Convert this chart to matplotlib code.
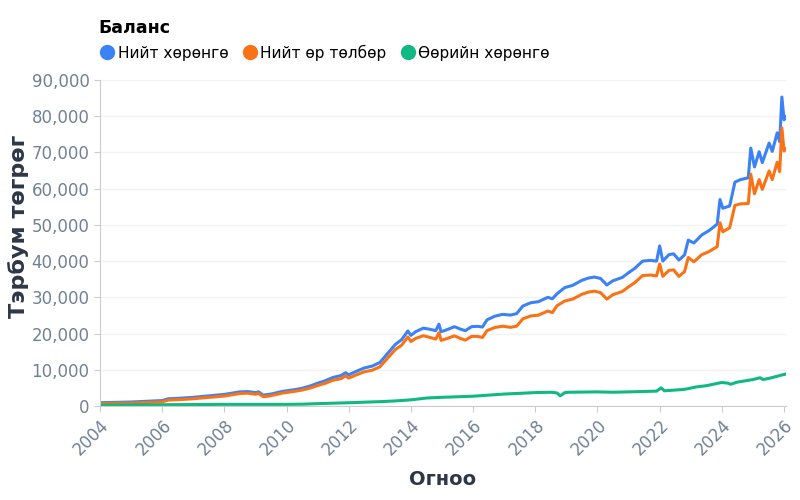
import matplotlib
matplotlib.use("Agg")
import matplotlib.pyplot as plt
from matplotlib.lines import Line2D
from matplotlib.ticker import FuncFormatter

# dates in decimal years
dates = [2004.0, 2004.5, 2005.0, 2005.5, 2006.0, 2006.2, 2006.5, 2007.0, 2007.5, 2008.0,
         2008.5, 2008.75, 2009.0, 2009.1, 2009.25, 2009.5, 2009.85, 2010.25, 2010.5, 2010.75,
         2011.0, 2011.25, 2011.5, 2011.75, 2011.9, 2012.0, 2012.25, 2012.5, 2012.75, 2013.0,
         2013.2, 2013.35, 2013.5, 2013.7, 2013.9, 2014.0, 2014.15, 2014.4, 2014.6, 2014.8,
         2014.9, 2014.97, 2015.2, 2015.4, 2015.6, 2015.75, 2015.95, 2016.15, 2016.3, 2016.45,
         2016.7, 2016.95, 2017.2, 2017.4, 2017.6, 2017.85, 2018.1, 2018.4, 2018.55, 2018.7,
         2018.95, 2019.2, 2019.5, 2019.7, 2019.9, 2020.1, 2020.3, 2020.5, 2020.8, 2021.0,
         2021.2, 2021.45, 2021.7, 2021.9, 2022.0, 2022.1, 2022.3, 2022.45, 2022.62, 2022.8,
         2022.92, 2023.1, 2023.35, 2023.6, 2023.85, 2023.94, 2024.03, 2024.25, 2024.42, 2024.6,
         2024.85, 2024.93, 2025.05, 2025.2, 2025.3, 2025.52, 2025.62, 2025.78, 2025.86, 2025.93,
         2026.0, 2026.05]

assets = [900, 1000, 1100, 1300, 1500, 2000, 2100, 2400, 2800, 3200,
          3900, 4000, 3700, 3900, 3000, 3300, 4000, 4500, 4900, 5500,
          6300, 7000, 7900, 8400, 9200, 8600, 9600, 10500, 11000, 12000,
          14000, 15500, 17000, 18300, 20700, 19500, 20500, 21500, 21200, 20800,
          22600, 20500, 21200, 21900, 21200, 20800, 21900, 22000, 21800, 23800,
          24800, 25300, 25100, 25500, 27600, 28500, 28800, 30000, 29600, 31000,
          32700, 33300, 34700, 35300, 35600, 35200, 33400, 34600, 35500, 36800,
          38000, 40000, 40200, 40000, 44200, 40000, 41800, 42000, 40300, 41700,
          45800, 45000, 47200, 48500, 50200, 57000, 54600, 55200, 61800, 62500,
          63000, 71200, 66000, 70200, 67200, 72600, 70300, 75400, 73000, 85300,
          79000, 79800]

liabilities = [650, 730, 800, 980, 1150, 1640, 1730, 2000, 2380, 2750,
               3450, 3550, 3250, 3450, 2550, 2850, 3550, 4030, 4400, 4930,
               5650, 6290, 7120, 7560, 8320, 7700, 8620, 9450, 9870, 10800,
               12720, 14160, 15600, 16780, 19060, 17800, 18650, 19400, 18960, 18480,
               20240, 18110, 18740, 19380, 18620, 18180, 19210, 19210, 18920, 20830,
               21680, 22030, 21720, 22040, 24060, 24860, 25080, 26220, 25800, 27700,
               29000, 29500, 30850, 31430, 31710, 31300, 29520, 30750, 31620, 32900,
               34060, 36010, 36160, 35920, 39200, 35800, 37460, 37560, 35780, 37100,
               41000, 39800, 41750, 42700, 44000, 50600, 48100, 49200, 55400, 55800,
               55900, 64000, 58600, 62500, 59800, 64900, 62500, 67300, 64700, 76800,
               70400, 71000]

eq_dates = [2004.0, 2005.0, 2006.0, 2007.0, 2008.0, 2009.0, 2010.0, 2010.5, 2011.0, 2012.0,
            2013.0, 2013.5, 2014.0, 2014.5, 2015.0, 2016.0, 2017.0, 2017.5, 2018.0, 2018.5,
            2018.7, 2018.8, 2018.95, 2019.1, 2020.0, 2020.5, 2021.0, 2021.9, 2022.05, 2022.15,
            2022.5, 2022.8, 2023.2, 2023.5, 2024.0, 2024.2, 2024.28, 2024.5, 2025.0, 2025.23,
            2025.33, 2025.6, 2025.9, 2026.05]
equity = [250, 300, 350, 400, 450, 450, 450, 500, 650, 900,
          1200, 1400, 1700, 2200, 2400, 2700, 3300, 3500, 3700, 3800,
          3600, 2800, 3700, 3800, 3900, 3800, 3900, 4100, 5000, 4200,
          4400, 4600, 5300, 5600, 6500, 6300, 6000, 6600, 7300, 7800,
          7300, 7800, 8500, 8800]

labels = ["Нийт хөрөнгө", "Нийт өр төлбөр", "Өөрийн хөрөнгө"]
colors = ["#3b82f6", "#f97316", "#10b981"]
years = list(range(2004, 2027, 2))

fig = plt.figure(figsize=(8, 5), dpi=100)
ax = fig.add_axes([0.125, 0.188, 0.857, 0.652])

ax.plot(dates, assets, color=colors[0], lw=2.2)
ax.plot(dates, liabilities, color=colors[1], lw=2.2)
ax.plot(eq_dates, equity, color=colors[2], lw=2.2)

ax.set_xlim(2004, 2026.05)
ax.set_ylim(0, 90000)
ax.set_xticks(years)
ax.set_xticklabels([str(y) for y in years], rotation=45, ha="right", rotation_mode="anchor")
ax.set_yticks(range(0, 90001, 10000))
ax.yaxis.set_major_formatter(FuncFormatter(lambda v, p: f"{int(v):,}"))

ax.grid(axis="y", color="#f2f2f2", lw=1)
ax.set_axisbelow(True)
for s in ["top", "right"]:
    ax.spines[s].set_visible(False)
for s in ["left", "bottom"]:
    ax.spines[s].set_color("#cccccc")
ax.tick_params(colors="#cccccc", labelcolor="#718096", labelsize=12, length=4)

ax.set_xlabel("Огноо", fontsize=14, fontweight="bold", color="#2d3748", labelpad=8)
ax.set_ylabel("Тэрбум төгрөг", fontsize=16, fontweight="bold", color="#2d3748")
ax.yaxis.set_label_coords(-0.103, 0.55)

handles = [Line2D([], [], marker="o", ls="", color=c, markersize=10) for c in colors]
leg = fig.legend(handles, labels, loc="upper left", bbox_to_anchor=(0.115, 0.975), ncol=3,
                 frameon=False, title="Баланс", alignment="left", fontsize=11.1,
                 title_fontproperties={"weight": "bold", "size": 12.5},
                 handletextpad=0.1, columnspacing=0.75, handlelength=1.2, borderaxespad=0)

fig.savefig("out.png", dpi=100)
